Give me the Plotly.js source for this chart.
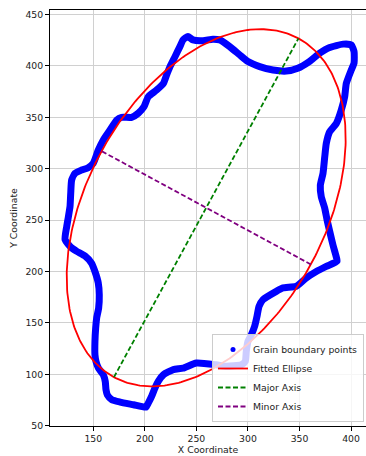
<!DOCTYPE html>
<html>
<head>
<meta charset="utf-8">
<script src="https://cdn.plot.ly/plotly-3.0.1.min.js"></script>
<style>html,body{margin:0;padding:0;background:#fff;}#chart{width:366px;height:456px;}</style>
</head>
<body>
<div id="chart"></div>
<script>
// Grain boundary points
const boundaryX = [201,189,176,168,163.6,162.3,161.6,159.7,155,152.6,151.6,151.6,152.3,153.3,155.2,155.8,154.8,151.6,148.4,142,134,128.4,122.6,124.2,125.8,127.4,128.1,129,132.3,138.7,145,150,154.8,159.7,166.2,172.7,177.5,187.2,193.6,199.2,203.3,211.5,218,221,224.4,229.2,234,237,241.8,246.7,256.4,266,272.6,282.3,292,300,311.4,324.3,337.2,348.3,359.5,369.6,379.3,392.2,400.2,402.9,402.9,400.2,395.4,393.8,390.5,385.7,379.3,376,374.5,372.8,370.2,371.1,374.5,376.8,379.3,382.4,385.1,386.4,376,366.3,356.6,346.9,334,327.5,314.6,310.7,308.8,306.5,303.3,300,298.4,297.4,293.6,279,269.3,250,237,227.6,218,213,209.8,206.6,203.3,201];
const boundaryY = [68,70.4,73,75.3,80,85,93,99.6,106,112.6,119,132,145,155,164.5,177.4,189,200,208,215,219.6,223.5,231,243.6,253,263,276,289,295.5,298.7,301,305.3,318,328,337.6,347.4,350,350,354,360.3,370,376.6,383,391,399.3,409,418.8,425.3,428.5,425.3,424.6,426,425.3,418.8,410.7,404.2,399.3,396,395,397.7,404.2,412.4,418,421.2,420.5,414,402.7,396,383,370,357,344,336,324.7,311.7,295.5,284,272.8,261.5,249.8,239,226,216.3,210,205,200,193.7,185.6,184,180.7,172.6,166,156.4,146.7,138.5,132,122.4,112.6,109.3,107.8,109.3,111,106,104.5,99.6,93.2,86.7,78.6,72,68];

// Fitted ellipse parameters
const ellipseCenter = [259.5, 262];
const ellipseSemiAxes = [187.5, 115.5]; // major, minor
const ellipseAngleDeg = 61.5;

// X / Y tick values
const xTicks = [150, 200, 250, 300, 350, 400];
const yTicks = [50, 100, 150, 200, 250, 300, 350, 400, 450];

const th = ellipseAngleDeg * Math.PI / 180;
const [cx, cy] = ellipseCenter;
const [ea, eb] = ellipseSemiAxes;
const ex = [], ey = [];
for (let i = 0; i <= 360; i++) {
  const t = i * Math.PI / 180;
  ex.push(cx + ea * Math.cos(t) * Math.cos(th) - eb * Math.sin(t) * Math.sin(th));
  ey.push(cy + ea * Math.cos(t) * Math.sin(th) + eb * Math.sin(t) * Math.cos(th));
}
const majorX = [cx - ea * Math.cos(th), cx + ea * Math.cos(th)];
const majorY = [cy - ea * Math.sin(th), cy + ea * Math.sin(th)];
const minorX = [cx + eb * Math.sin(th), cx - eb * Math.sin(th)];
const minorY = [cy - eb * Math.cos(th), cy + eb * Math.cos(th)];

const font = {family: 'DejaVu Sans, sans-serif', size: 9.3, color: '#222'};

const traces = [
  {x: boundaryX, y: boundaryY, mode: 'lines', line: {color: '#0000ff', width: 7, shape: 'spline', smoothing: 0.5}, showlegend: false, hoverinfo: 'skip'},
  {x: [null], y: [null], mode: 'markers', marker: {color: '#0000ff', size: 5}, name: 'Grain boundary points'},
  {x: ex, y: ey, mode: 'lines', line: {color: '#ff0000', width: 1.8}, name: 'Fitted Ellipse'},
  {x: majorX, y: majorY, mode: 'lines', line: {color: '#008000', width: 1.8, dash: '5px,2.5px'}, name: 'Major Axis'},
  {x: minorX, y: minorY, mode: 'lines', line: {color: '#800080', width: 1.8, dash: '5px,2.5px'}, name: 'Minor Axis'}
];

const axisCommon = {
  showline: true, linecolor: '#000', linewidth: 1,
  ticks: 'outside', ticklen: 4, tickwidth: 1, tickcolor: '#000',
  showgrid: true, gridcolor: '#d0d0d0', gridwidth: 1, zeroline: false,
  tickfont: font
};

const layout = {
  width: 366, height: 456,
  margin: {l: 50, r: 0, t: 10, b: 30},
  paper_bgcolor: '#fff', plot_bgcolor: '#fff',
  font: font,
  xaxis: Object.assign({}, axisCommon, {
    range: [108, 414.5], tickvals: xTicks, ticktext: xTicks.map(String), mirror: true,
    title: {text: 'X Coordinate', font: font, standoff: 3}
  }),
  yaxis: Object.assign({}, axisCommon, {
    range: [49.7, 454.4], tickvals: yTicks, ticktext: yTicks.map(String), mirror: false,
    title: {text: 'Y Coordinate', font: font, standoff: 6}
  }),
  legend: {
    x: 0.9937, xanchor: 'right', y: 0.0096, yanchor: 'bottom',
    bgcolor: 'rgba(255,255,255,0.8)', bordercolor: '#cccccc', borderwidth: 1,
    font: font, tracegroupgap: 0
  },
  showlegend: true
};

Plotly.newPlot('chart', traces, layout, {displayModeBar: false, staticPlot: true});
</script>
</body>
</html>
